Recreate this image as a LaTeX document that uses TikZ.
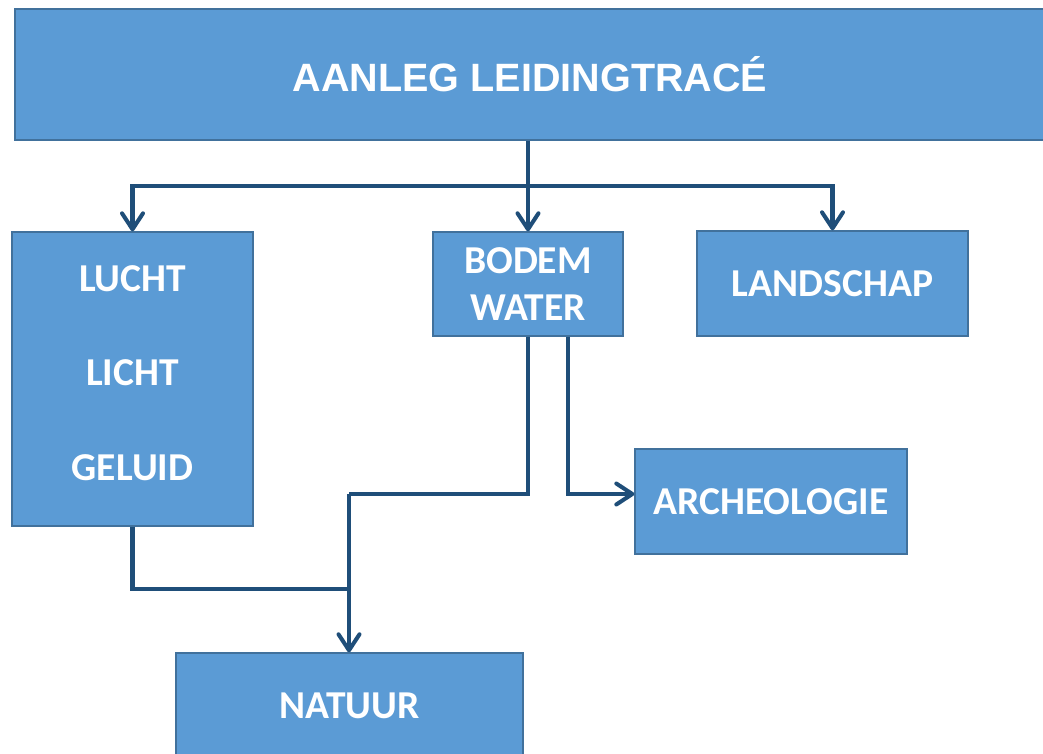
\documentclass[tikz,border=0pt]{standalone}
\usepackage{fontspec}
\setmainfont{Carlito}
\newfontfamily\titlefont{Liberation Sans}
\usetikzlibrary{arrows.meta,positioning}
\definecolor{boxblue}{HTML}{5B9BD5}
\definecolor{boxedge}{HTML}{41719C}
\definecolor{linkblue}{HTML}{1F4E79}

\begin{document}
\begin{tikzpicture}[
    x=0.02cm, y=-0.02cm,
    block/.style={rectangle,draw=boxedge,line width=0.8pt,fill=boxblue,text=white,
                  inner sep=0pt,align=center,font=\fontsize{22.5}{27}\selectfont\bfseries},
    link/.style={draw=linkblue,line width=2.3pt},
    tip/.style={link,-{Straight Barb[round,length=3.2mm,width=4.2mm]}}
]
    \clip (0,0) rectangle (1043,753);
    % boxes, placed at their centres
    \node[block,minimum width=20.6cm,minimum height=2.62cm,
          font=\titlefont\fontsize{22.5}{27}\selectfont\bfseries] (top) at (530,74.5) {AANLEG LEIDINGTRACÉ};
    \node[block,minimum width=4.82cm,minimum height=5.88cm,text depth=0.24cm,
          font=\fontsize{22.5}{54}\selectfont\bfseries] (lucht) at (132.5,379) {LUCHT\\LICHT\\GELUID};
    \node[block,minimum width=3.8cm,minimum height=2.08cm] (bodem) at (528,284) {BODEM\\WATER};
    \node[block,minimum width=5.42cm,minimum height=2.1cm] (land) at (832.5,283.5) {LANDSCHAP};
    \node[block,minimum width=5.44cm,minimum height=2.1cm] (arch) at (771,501.5) {ARCHEOLOGIE};
    \node[block,minimum width=6.94cm,minimum height=2.12cm] (natuur) at (349.5,706) {NATUUR};

    \coordinate (split) at (528,186);
    \coordinate (turn) at (349,494);
    \coordinate (meet) at (349,589);

    \draw[link] (top.south -| split) -- (split);
    \draw[tip]  (split) -| (lucht.north);
    \draw[tip]  (split) -- (bodem.north);
    \draw[tip]  (split) -| (land.north);
    \draw[link] (bodem.south) |- (turn);
    \draw[tip]  (turn) -- (natuur.north -| turn);
    \draw[link] (lucht.south) |- (meet);
    \draw[tip]  ([xshift=0.8cm]bodem.south) |- ([yshift=0.15cm]arch.west);
\end{tikzpicture}
\end{document}
